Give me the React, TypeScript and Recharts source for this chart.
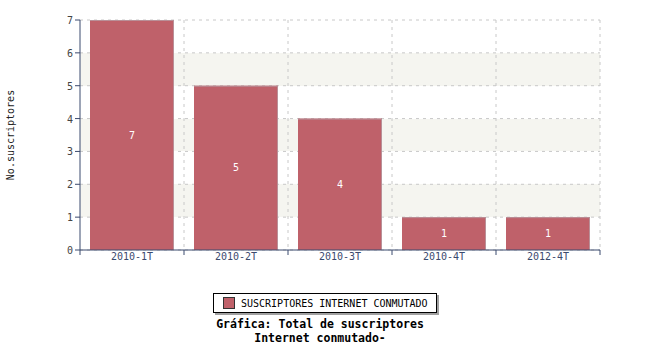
import { BarChart, Bar, XAxis, YAxis, CartesianGrid, LabelList } from "recharts";

const categories = ["2010-1T", "2010-2T", "2010-3T", "2010-4T", "2012-4T"];
const subscribers = [7, 5, 4, 1, 1];
const yTicks = [0, 1, 2, 3, 4, 5, 6, 7];
const yMinorTicks = [0.5, 1.5, 2.5, 3.5, 4.5, 5.5, 6.5];

const data = categories.map((c, i) => ({ name: c, value: subscribers[i] }));

const FONT = "'DejaVu Sans Mono', monospace";
const AXIS = "#3b4a6e";
const BAR = "#bf616a";

const BarShape = (props: any) => {
  const { x, y, width, height } = props;
  return (
    <g>
      <rect x={x} y={y} width={width} height={height} fill={BAR} />
      <line x1={x} y1={y + 0.5} x2={x + width} y2={y + 0.5} stroke="#b99098" />
      <line x1={x + width - 0.5} y1={y} x2={x + width - 0.5} y2={y + height} stroke="#b99098" />
    </g>
  );
};

const XTick = (props: any) => {
  const { x, y, payload, index } = props;
  const half = payload.offset || 0;
  const last = index === categories.length - 1;
  return (
    <g>
      <line x1={x - half} y1={y} x2={x - half} y2={y + 5} stroke={AXIS} />
      {last && <line x1={x + half} y1={y} x2={x + half} y2={y + 5} stroke={AXIS} />}
      <text x={x} y={y + 10} textAnchor="middle" fill={AXIS} fontSize={10} fontFamily={FONT}>
        {payload.value}
      </text>
    </g>
  );
};

const YTick = (props: any) => {
  const { x, y, payload } = props;
  return (
    <g>
      <line x1={x - 5} y1={y} x2={x} y2={y} stroke={AXIS} />
      <text x={x - 7} y={y + 4} textAnchor="end" fill="#444" fontSize={10} fontFamily={FONT}>
        {payload.value}
      </text>
    </g>
  );
};

const YMinorTick = (props: any) => {
  const { x, y } = props;
  return <line x1={x - 4} y1={y} x2={x} y2={y} stroke={AXIS} />;
};

export default function App() {
  return (
    <div style={{ position: "absolute", left: 0, top: 0, width: 650, height: 350, background: "#fff", fontFamily: FONT }}>
      <BarChart
        width={650}
        height={280}
        data={data}
        margin={{ top: 20, right: 50, left: 45, bottom: 0 }}
        barCategoryGap={10}
      >
        <CartesianGrid
          stroke="#c8c8c8"
          strokeDasharray="3 4"
          horizontalFill={["#ffffff", "#f5f5f0"]}
          verticalCoordinatesGenerator={({ offset }: any) =>
            categories.map((_, i) => offset.left + (offset.width * (i + 1)) / categories.length)
          }
        />
        <XAxis
          dataKey="name"
          tickLine={false}
          tickSize={0}
          tickMargin={0}
          axisLine={{ stroke: AXIS }}
          tick={<XTick />}
          interval={0}
          height={30}
        />
        <YAxis
          yAxisId="minor"
          domain={[0, 7]}
          ticks={yMinorTicks}
          interval={0}
          width={0}
          tickSize={0}
          tickMargin={0}
          tickLine={false}
          axisLine={false}
          tick={<YMinorTick />}
        />
        <YAxis
          domain={[0, 7]}
          ticks={yTicks}
          interval={0}
          width={35}
          tickSize={0}
          tickMargin={0}
          tickLine={false}
          axisLine={{ stroke: AXIS }}
          tick={<YTick />}
        />
        <Bar dataKey="value" shape={BarShape} isAnimationActive={false}>
          <LabelList dataKey="value" position="center" fill="#ffffff" fontSize={10} fontFamily={FONT} />
        </Bar>
      </BarChart>
      <div
        style={{
          position: "absolute",
          left: 10,
          top: 135,
          transform: "translate(-50%, -50%) rotate(-90deg)",
          fontSize: 10,
          color: "#222",
          whiteSpace: "nowrap",
        }}
      >
        No.suscriptores
      </div>
      <div
        style={{
          position: "absolute",
          left: 213,
          top: 293,
          width: 222,
          height: 18,
          border: "1px solid #000",
          boxShadow: "2px 2px 0 #a0a0a0",
          display: "flex",
          alignItems: "center",
          fontSize: 10,
          color: "#000",
          background: "#fff",
        }}
      >
        <span style={{ display: "inline-block", width: 10, height: 10, background: BAR, border: "1px solid #333", marginLeft: 9, marginRight: 6 }} />
        SUSCRIPTORES INTERNET CONMUTADO
      </div>
      <div
        style={{
          position: "absolute",
          left: 0,
          width: 640,
          top: 317,
          textAlign: "center",
          fontSize: 11.5,
          fontWeight: "bold",
          lineHeight: "14px",
          color: "#000",
        }}
      >
        Gráfica: Total de suscriptores
        <br />
        Internet conmutado-
      </div>
    </div>
  );
}
